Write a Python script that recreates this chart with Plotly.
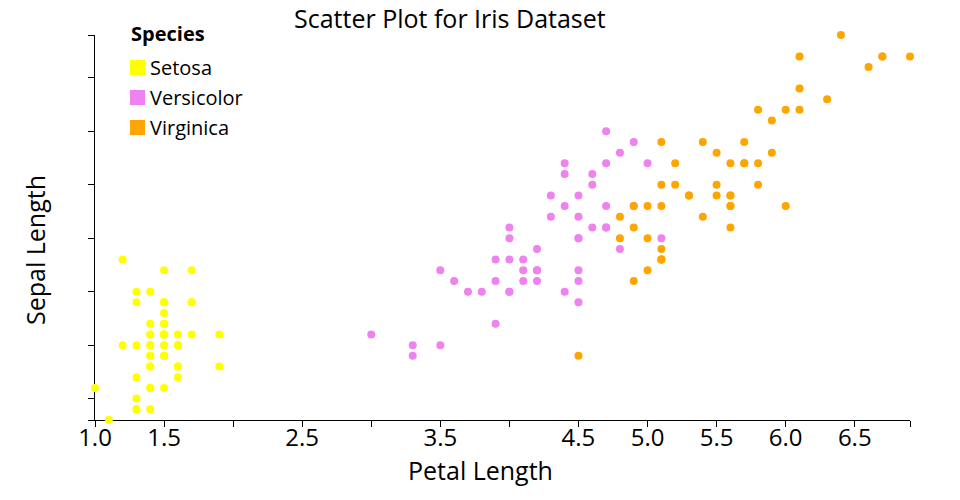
import plotly.graph_objects as go

species = ["Setosa", "Versicolor", "Virginica"]
colors = ["#ffff00", "#ee82ee", "#ffa500"]

setosa_petal = [1.4,1.4,1.3,1.5,1.4,1.7,1.4,1.5,1.4,1.5,1.5,1.6,1.4,1.1,1.2,1.5,1.3,1.4,1.7,1.5,
                1.7,1.5,1.0,1.7,1.9,1.6,1.6,1.5,1.4,1.6,1.6,1.5,1.5,1.4,1.5,1.2,1.3,1.4,1.3,1.5,
                1.3,1.3,1.3,1.6,1.9,1.4,1.6,1.4,1.5,1.4]
setosa_sepal = [5.1,4.9,4.7,4.6,5.0,5.4,4.6,5.0,4.4,4.9,5.4,4.8,4.8,4.3,5.8,5.7,5.4,5.1,5.7,5.1,
                5.4,5.1,4.6,5.1,4.8,5.0,5.0,5.2,5.2,4.7,4.8,5.4,5.2,5.5,4.9,5.0,5.5,4.9,4.4,5.1,
                5.0,4.5,4.4,5.0,5.1,4.8,5.1,4.6,5.3,5.0]
versicolor_petal = [4.7,4.5,4.9,4.0,4.6,4.5,4.7,3.3,4.6,3.9,3.5,4.2,4.0,4.7,3.6,4.4,4.5,4.1,4.5,3.9,
                    4.8,4.0,4.9,4.7,4.3,4.4,4.8,5.0,4.5,3.5,3.8,3.7,3.9,5.1,4.5,4.5,4.7,4.4,4.1,4.0,
                    4.4,4.6,4.0,3.3,4.2,4.2,4.2,4.3,3.0,4.1]
versicolor_sepal = [7.0,6.4,6.9,5.5,6.5,5.7,6.3,4.9,6.6,5.2,5.0,5.9,6.0,6.1,5.6,6.7,5.6,5.8,6.2,5.6,
                    5.9,6.1,6.3,6.1,6.4,6.6,6.8,6.7,6.0,5.7,5.5,5.5,5.8,6.0,5.4,6.0,6.7,6.3,5.6,5.5,
                    5.5,6.1,5.8,5.0,5.6,5.7,5.7,6.2,5.1,5.7]
virginica_petal = [6.0,5.1,5.9,5.6,5.8,6.6,4.5,6.3,5.8,6.1,5.1,5.3,5.5,5.0,5.1,5.3,5.5,6.7,6.9,5.0,
                   5.7,4.9,6.7,4.9,5.7,6.0,4.8,4.9,5.6,5.8,6.1,6.4,5.6,5.1,5.6,6.1,5.6,5.5,4.8,5.4,
                   5.6,5.1,5.1,5.9,5.7,5.2,5.0,5.2,5.4,5.1]
virginica_sepal = [6.3,5.8,7.1,6.3,6.5,7.6,4.9,7.3,6.7,7.2,6.5,6.4,6.8,5.7,5.8,6.4,6.5,7.7,7.7,6.0,
                   6.9,5.6,7.7,6.3,6.7,7.2,6.2,6.1,6.4,7.2,7.4,7.9,6.4,6.3,6.1,7.7,6.3,6.4,6.0,6.9,
                   6.7,6.9,5.8,6.8,6.7,6.7,6.3,6.5,6.2,5.9]

x_tickvals = [1.0,1.5,2.0,2.5,3.0,3.5,4.0,4.5,5.0,5.5,6.0,6.5,6.9]
x_ticktext = ["1.0","1.5","","2.5","","3.5","","4.5","5.0","5.5","6.0","6.5",""]
y_tickvals = [4.3,4.5,5.0,5.5,6.0,6.5,7.0,7.5,7.9]
x_range = [1.0, 6.9]
y_range = [4.3, 7.9]

FONT = "Open Sans"
W, H = 960, 500
OFF = 8  # page offset of the figure in the screenshot
# target plot area in screenshot pixels: x 95..910, y 35..420
L, T = 95 - OFF, 35 - OFF
PW, PH = 910 - 95, 420 - 35
R, B = W - L - PW, H - T - PH

def px(x):
    return (x - OFF - L) / PW

def py(y):
    return (T + PH - (y - OFF)) / PH

fig = go.Figure()
data = [(setosa_petal, setosa_sepal), (versicolor_petal, versicolor_sepal), (virginica_petal, virginica_sepal)]
for name, col, (xs, ys) in zip(species, colors, data):
    fig.add_trace(go.Scatter(x=xs, y=ys, mode="markers", name=name, cliponaxis=False,
                             marker=dict(color=col, size=8, line=dict(width=0)), showlegend=False))

# manual legend
ann = []
shapes = []
ann.append(dict(text="<b>Species</b>", x=px(129), y=py(33), xref="paper", yref="paper",
                xanchor="left", yanchor="middle", showarrow=False, font=dict(size=20, family=FONT, color="#000")))
for i, (name, col) in enumerate(zip(species, colors)):
    top = 60 + 30 * i
    shapes.append(dict(type="rect", xref="paper", yref="paper", x0=px(130), x1=px(145),
                       y0=py(top + 15), y1=py(top), fillcolor=col, line=dict(width=0), layer="above"))
    ann.append(dict(text=name, x=px(148), y=py(top + 7.5), xref="paper", yref="paper",
                    xanchor="left", yanchor="middle", showarrow=False, font=dict(size=20, family=FONT, color="#000")))

ann.append(dict(text="Scatter Plot for Iris Dataset", x=px(450), y=py(18), xref="paper", yref="paper",
                xanchor="center", yanchor="middle", showarrow=False, font=dict(size=25, family=FONT, color="#000")))
ann.append(dict(text="Petal Length", x=px(480), y=py(470), xref="paper", yref="paper",
                xanchor="center", yanchor="middle", showarrow=False, font=dict(size=25, family=FONT, color="#000")))
ann.append(dict(text="Sepal Length", x=px(35), y=py(250), xref="paper", yref="paper", textangle=-90,
                xanchor="center", yanchor="middle", showarrow=False, font=dict(size=25, family=FONT, color="#000")))

fig.update_layout(
    width=W, height=H, margin=dict(l=L, r=R, t=T, b=B),
    paper_bgcolor="white", plot_bgcolor="white",
    font=dict(family=FONT, color="#000"),
    annotations=ann, shapes=shapes,
    xaxis=dict(range=x_range, tickvals=x_tickvals, ticktext=x_ticktext, showgrid=False, zeroline=False,
               showline=True, linecolor="#000", linewidth=1, ticks="outside", ticklen=6, tickcolor="#000",
               tickfont=dict(size=24, family=FONT, color="#000"), ticklabelstandoff=-10,
               layer="below traces", fixedrange=True),
    yaxis=dict(range=y_range, tickvals=y_tickvals, showticklabels=False, showgrid=False, zeroline=False,
               showline=True, linecolor="#000", linewidth=1, ticks="outside", ticklen=6, tickcolor="#000",
               layer="below traces", fixedrange=True),
)

fig.write_html("out.html")
